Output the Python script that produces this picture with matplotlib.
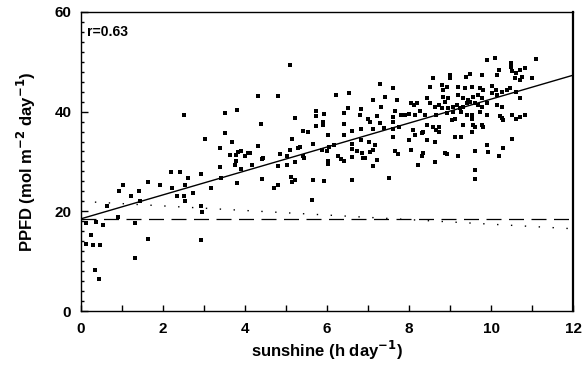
import matplotlib
matplotlib.use("Agg")
import matplotlib.pyplot as plt
from matplotlib.ticker import MultipleLocator

# scatter points: sunshine (h/day), PPFD (mol m-2 day-1)
sun = [2.51, 3.5, 3.8, 3.5, 3.02, 3.69, 3.4, 3.63, 3.79, 3.9, 3.99, 3.79, 3.75, 3.4, 3.9, 3.84, 4.12,
       2.2, 2.41, 2.92, 2.61, 3.42, 1.63, 1.02, 1.92, 2.53, 2.23, 1.41, 0.92, 3.18, 2.73, 3.81, 1.23,
       2.33, 2.51, 1.43, 2.53, 0.64, 2.93, 2.95, 0.9, 0.13, 0.37, 0.54, 1.32, 0.24, 1.63, 2.92, 0.13,
       0.29, 0.46, 1.32, 0.33, 0.44,
       5.1, 4.31, 4.81, 7.29, 7.61, 6.21, 6.54, 7.41, 7.11, 7.7, 8.06, 6.5, 6.82, 5.73, 6.42, 7.32,
       5.93, 6.8, 7.21, 7.67, 7.8, 7.9, 8.0, 7.6, 5.22, 5.73, 6.99, 7.05, 5.91, 4.39, 6.42, 5.73, 5.91,
       7.29, 7.62, 5.42, 5.53, 6.02, 6.41, 6.62, 6.82, 7.13, 7.4, 7.6, 7.75, 8.1, 5.14, 6.83, 7.02,
       7.17, 7.62, 8.01, 4.31, 5.65, 6.04, 6.16, 6.62, 6.6, 5.87, 5.99, 6.74, 6.86, 7.13, 7.05, 7.66,
       7.74, 8.05, 5.3, 5.1, 4.85, 5.02, 4.08, 4.45, 5.43, 6.26, 6.88, 5.34,
       4.41, 4.18, 4.81, 5.02, 5.22, 5.42, 6.02, 6.03, 6.26, 6.34, 6.42, 6.62, 6.93, 7.21, 7.13, 4.42,
       5.12, 5.22, 5.14, 5.65, 5.93, 6.62, 7.51, 4.81, 4.71, 5.63,
       9.89, 10.1, 11.1, 10.49, 10.49, 8.59, 9.0, 9.0, 9.49, 9.39, 9.77, 10.2, 10.15, 10.5, 10.62,
       10.7, 10.83, 10.59, 10.7, 10.75, 10.99, 8.8, 8.92, 8.84, 9.2, 9.37, 9.53, 9.73, 9.81, 10.02,
       10.12, 8.51, 8.43, 8.11, 8.19, 8.84, 8.96, 8.88, 9.2, 9.32, 9.45, 9.57, 9.69, 9.77, 10.02,
       10.14, 10.26, 10.38, 10.46, 10.61,
       8.51, 8.63, 8.72, 8.8, 8.96, 9.08, 9.16, 9.24, 9.32, 9.41, 9.49, 9.61, 9.69, 9.77, 9.9,
       10.14, 10.26, 10.7, 8.27, 8.39, 8.15, 8.67, 8.92, 9.08, 9.28, 9.41, 9.53, 9.73, 9.9, 10.22,
       10.3, 10.26, 10.5, 10.62, 10.7, 10.83, 9.04, 9.12, 9.53, 9.77, 9.81, 9.32, 9.57, 9.61, 8.43,
       8.59, 8.72, 8.35, 8.31, 8.15, 8.67, 8.72, 9.12, 9.28, 9.53, 8.43, 8.63, 10.5, 9.9, 10.3, 8.35,
       8.88, 9.61, 9.93,
       8.23, 8.32, 8.63, 8.92, 9.2, 10.2, 9.61, 9.61]
ppfd = [39.3, 39.8, 40.3, 35.8, 34.5, 33.9, 32.8, 31.3, 31.3, 32.0, 31.0, 30.1, 29.3, 28.8, 28.5, 31.8, 31.6,
        27.8, 27.8, 27.4, 26.6, 26.6, 25.8, 25.2, 25.3, 25.2, 24.6, 24.1, 24.1, 24.6, 23.6, 25.6, 23.0,
        23.0, 23.0, 22.0, 22.0, 21.0, 21.0, 19.9, 18.9, 17.6, 17.8, 17.3, 17.6, 15.2, 14.4, 14.2, 13.4,
        13.2, 13.3, 10.6, 8.2, 6.4,
        49.4, 43.1, 43.1, 45.5, 44.7, 43.3, 43.8, 43.0, 42.4, 42.4, 41.7, 40.7, 40.5, 40.1, 39.8, 40.9,
        39.5, 39.4, 39.1, 40.1, 39.3, 39.3, 39.5, 39.0, 38.8, 39.2, 38.5, 38.0, 38.0, 37.5, 37.5, 37.1, 37.4,
        37.8, 38.0, 36.2, 35.9, 35.3, 35.3, 36.1, 36.5, 36.5, 36.8, 36.6, 36.9, 36.4, 34.5, 34.3, 34.0,
        33.3, 34.9, 34.3, 33.1, 33.6, 33.0, 33.3, 33.6, 32.6, 32.4, 32.0, 32.0, 31.7, 32.3, 31.8, 32.2,
        31.5, 32.4, 32.8, 32.4, 31.5, 31.1, 31.6, 30.6, 30.6, 31.0, 30.6, 33.0,
        30.5, 29.3, 29.0, 29.3, 29.8, 31.0, 30.1, 29.5, 31.1, 30.5, 30.1, 30.8, 30.6, 30.3, 29.1, 26.4,
        26.8, 26.3, 25.8, 26.3, 26.1, 26.3, 26.6, 25.3, 24.6, 22.3,
        50.4, 50.8, 50.5, 49.7, 49.0, 46.8, 47.4, 46.7, 47.5, 47.0, 47.4, 48.4, 47.4, 48.1, 47.7,
        48.4, 48.7, 46.7, 46.4, 47.0, 46.7, 45.4, 45.0, 44.4, 45.0, 44.7, 45.0, 44.7, 44.4, 45.2,
        44.4, 44.9, 42.7, 41.3, 41.7, 43.0, 42.7, 42.0, 43.3, 42.7, 42.4, 43.0, 43.3, 42.7, 43.7,
        43.4, 44.0, 44.4, 44.7, 44.0,
        41.7, 41.0, 41.3, 40.7, 40.7, 41.0, 41.3, 40.7, 41.0, 41.7, 42.0, 41.7, 41.3, 41.0, 41.7,
        41.3, 41.0, 42.7, 40.1, 39.4, 39.4, 39.3, 39.7, 40.0, 40.0, 39.3, 39.3, 40.0, 39.3, 39.1,
        38.3, 38.8, 39.3, 38.6, 39.0, 39.3, 38.3, 38.6, 38.6, 37.4, 37.0, 37.4, 37.4, 37.0, 37.4,
        37.0, 37.0, 36.0, 35.7, 35.3, 36.3, 35.9, 35.0, 35.0, 35.9, 34.3, 34.0, 34.5, 33.3, 32.8, 31.6,
        31.6, 32.0, 31.9,
        29.2, 31.1, 29.8, 31.5, 31.0, 31.0, 28.2, 26.4]

# fitted line and the two reference lines
fit_x = [0, 12]
fit_y = [18.5, 47.3]
dash_y = [18.4, 18.4]
dot_y = [22.0, 16.5]

plt.rcParams['font.family'] = ['Liberation Sans', 'DejaVu Sans']
plt.rcParams['font.weight'] = 'bold'

fig = plt.figure(figsize=(5.85, 3.81), dpi=100)
ax = fig.add_axes([0.1385, 0.1837, 0.841, 0.785])

ax.scatter(sun, ppfd, s=6, marker='s', color='black', linewidths=0)
ax.plot(fit_x, fit_y, '-', color='black', lw=1.0)
ax.plot(fit_x, dash_y, color='black', lw=0.9, dashes=(12, 6))
ax.plot(fit_x, dot_y, color='black', lw=1.0, linestyle=(0, (1, 9)))

ax.set_xlim(0, 12)
ax.set_ylim(0, 60)
ax.xaxis.set_major_locator(MultipleLocator(2))
ax.xaxis.set_minor_locator(MultipleLocator(1))
ax.yaxis.set_major_locator(MultipleLocator(20))
ax.yaxis.set_minor_locator(MultipleLocator(2))
ax.tick_params(which='both', direction='in', top=False, right=False, width=1.0)
ax.tick_params(axis='x', which='both', length=4, labelsize=11, pad=8)
ax.tick_params(axis='y', which='major', length=5, labelsize=11, pad=7)
ax.tick_params(axis='y', which='minor', length=2.5)
for lab in ax.get_xticklabels() + ax.get_yticklabels():
    lab.set_fontweight('bold')

for s in ax.spines.values():
    s.set_linewidth(1.0)
ax.spines['right'].set_linewidth(1.6)

ax.text(0.012, 0.955, 'r=0.63', transform=ax.transAxes, fontsize=10,
        fontweight='bold', va='top', ha='left')

ax.set_xlabel('sunshine (h day$^{\\mathbf{-1}}$)', fontsize=12, fontweight='bold', labelpad=2)
ax.set_ylabel('PPFD (mol m$^{\\mathbf{-2}}$ day$^{\\mathbf{-1}}$)', fontsize=12, fontweight='bold', labelpad=12)

fig.savefig('out.png', dpi=100)
